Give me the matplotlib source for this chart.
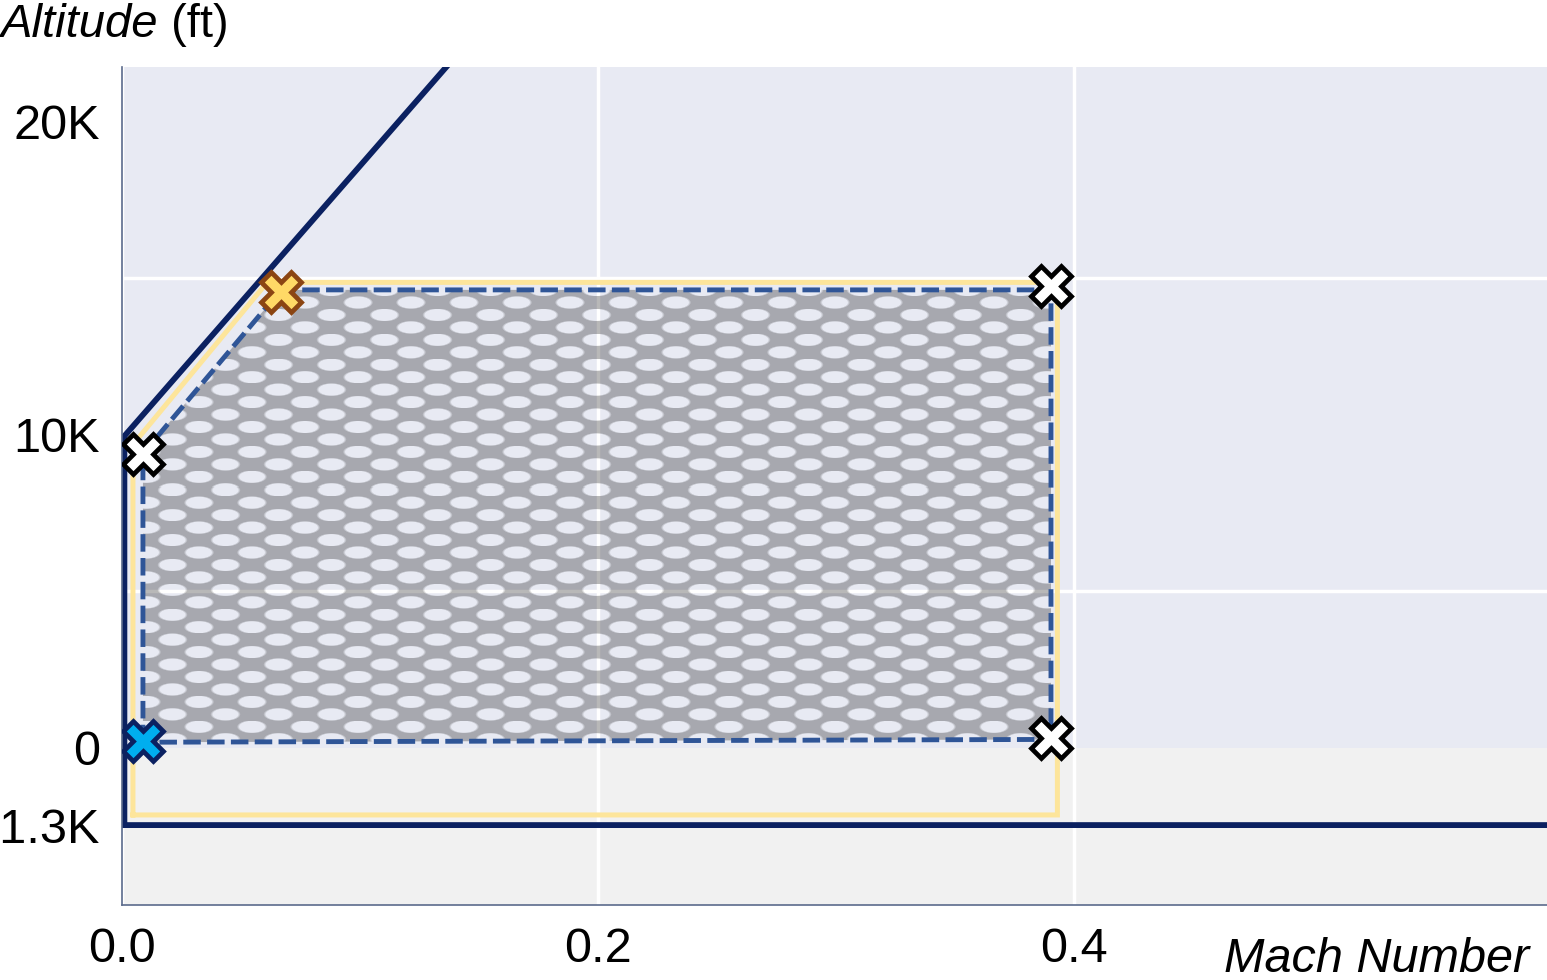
import numpy as np
import matplotlib
matplotlib.use("Agg")
import matplotlib.pyplot as plt
from matplotlib.patches import Polygon

plt.rcParams['font.family'] = ['Liberation Sans', 'DejaVu Sans']

# Flight envelope boundary (Mach, ft)
envelope_mach = [0.599, 0.001, 0.001, 0.2]
envelope_alt = [-1300, -1300, 9950, 27300]

# Clearance buffer around the test region
buffer_mach = [0.0046, 0.0046, 0.061, 0.393, 0.393, 0.0046]
buffer_alt = [-1130, 9680, 14860, 14860, -1130, -1130]

# Test region corners
region_mach = [0.0088, 0.0088, 0.0668, 0.3903, 0.3903]
region_alt = [170, 9390, 14620, 14620, 260]

# Test points
wp_mach = [0.0088, 0.3903, 0.3903]
wp_alt = [9390, 14760, 320]
start_mach, start_alt = 0.0088, 220
peak_mach, peak_alt = 0.0668, 14540

x_ticks = [0.0, 0.2, 0.4]
x_labels = ['0.0', '0.2', '0.4']
y_ticks = [20000, 10000, 0, -1300]
y_labels = ['20K', '10K', '0', '-1.3K']

X_LIM = (0.0, 0.5987)
Y_LIM = (-2640, 21740)
BELOW_STRETCH = 1.905  # negative altitudes get extra room


def fwd(y):
    y = np.asarray(y, dtype=float)
    return np.where(y < 0, y * BELOW_STRETCH, y)


def inv(y):
    y = np.asarray(y, dtype=float)
    return np.where(y < 0, y / BELOW_STRETCH, y)


def dot_texture(w, h):
    """Semi-transparent gray with staggered elliptical holes."""
    row_step, col_step = 12.45, 53.0
    row_phase, col_phase = 12.4, 24.0
    a, b = 13.8, 6.1
    yy, xx = np.mgrid[0:h, 0:w] + 0.5
    row = np.floor((yy - row_phase) / row_step + 0.5)
    cy = row_phase + row * row_step
    shift = np.where(row % 2 == 0, 0.0, col_step / 2)
    cx = np.round((xx - col_phase - shift) / col_step) * col_step + col_phase + shift
    r = np.sqrt(((xx - cx) / a) ** 2 + ((yy - cy) / b) ** 2)
    hole = np.clip((1.1 - r) / 0.2, 0, 1)
    rgba = np.zeros((h, w, 4))
    rgba[..., 3] = 0.28 * (1 - hole)
    return rgba


fig = plt.figure(figsize=(15.47, 9.80), dpi=100)
ax = fig.add_axes([122 / 1547, 75 / 980, 1425 / 1547, 838 / 980])
ax.set_facecolor('#e8eaf3')
ax.set_yscale('function', functions=(fwd, inv))

ax.axhspan(Y_LIM[0], 0, color='#f1f1f1', zorder=0.2, lw=0)

# dotted fill clipped to the test region
im = ax.imshow(dot_texture(1425, 838), extent=(0, 1, 0, 1), transform=ax.transAxes,
               aspect='auto', interpolation='nearest', zorder=1)
region = Polygon(np.column_stack([region_mach, region_alt]), closed=True,
                 transform=ax.transData, fill=False, lw=0)
ax.add_patch(region)
im.set_clip_path(region)

ax.plot(buffer_mach, buffer_alt, color='#fde59b', lw=3.6,
        solid_joinstyle='miter', zorder=2)
ax.plot(envelope_mach, envelope_alt, color='#0b2161', lw=4.2,
        solid_joinstyle='miter', zorder=2.5)
outline = Polygon(np.column_stack([region_mach, region_alt]), closed=True,
                  fill=False, edgecolor='#2f5597', lw=3.5, ls=(0, (3.6, 1.3)), zorder=3)
ax.add_patch(outline)

ax.plot(wp_mach, wp_alt, ls='none', marker='X', ms=29.5, mfc='white',
        mec='black', mew=3.4, zorder=4)
ax.plot([start_mach], [start_alt], ls='none', marker='X', ms=29.5, mfc='#00aeef',
        mec='#0b2161', mew=3.4, zorder=4)
ax.plot([peak_mach], [peak_alt], ls='none', marker='X', ms=29.5, mfc='#ffd966',
        mec='#8b4513', mew=3.4, zorder=4)

ax.set_xlim(*X_LIM)
ax.set_ylim(*Y_LIM)
ax.set_xticks(x_ticks)
ax.set_xticklabels(x_labels)
ax.set_yticks(y_ticks)
ax.set_yticklabels(y_labels)
ax.yaxis.set_minor_locator(matplotlib.ticker.MultipleLocator(5000))
ax.tick_params(which='both', length=0, labelsize=35)
ax.tick_params(axis='x', pad=16)
ax.tick_params(axis='y', pad=16)

ax.set_axisbelow(True)
ax.grid(False)
ax.xaxis.grid(True, color='white', lw=2.5)
ax.yaxis.grid(True, which='minor', color='white', lw=2.5)

for side in ['top', 'right']:
    ax.spines[side].set_visible(False)
for side in ['left', 'bottom']:
    ax.spines[side].set_color('#5b6b8c')
    ax.spines[side].set_linewidth(1.2)

t = fig.text(0, 1 - 37 / 980, 'Altitude', fontsize=34, style='italic', va='baseline')
ax.annotate(' (ft)', xy=(1, 0), xycoords=t, fontsize=34, va='bottom', ha='left',
            annotation_clip=False)
fig.text(1 - 18 / 1547, 8 / 980, 'Mach Number', fontsize=35, style='italic',
         ha='right', va='baseline')

fig.savefig('out.png', dpi=100)
